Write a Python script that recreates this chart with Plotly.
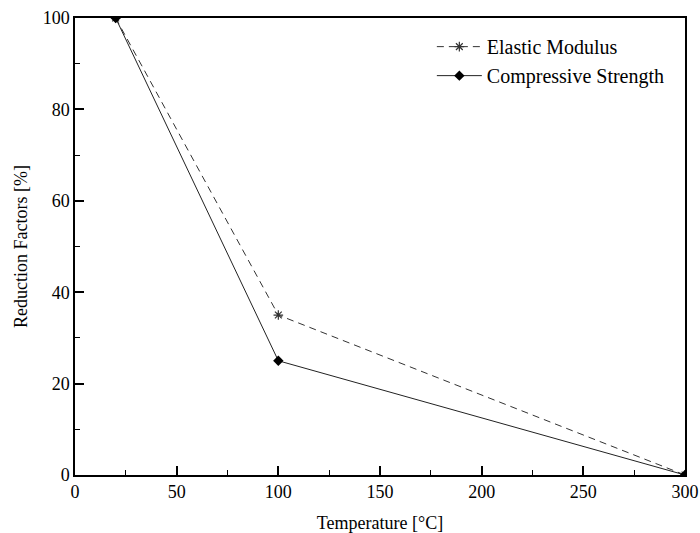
import plotly.graph_objects as go

temperature = [20, 100, 300]
elastic_modulus = [100, 35, 0]
compressive_strength = [100, 25, 0]

font_family = "Liberation Serif"

fig = go.Figure()
fig.add_trace(go.Scatter(
    x=temperature, y=elastic_modulus, mode="lines+markers",
    name="Elastic Modulus",
    line=dict(color="#333333", width=1, dash="7px,5px"),
    marker=dict(symbol="asterisk-open", size=8, color="#333333", line=dict(width=1.2, color="#333333")),
))
fig.add_trace(go.Scatter(
    x=temperature, y=compressive_strength, mode="lines+markers",
    name="Compressive Strength",
    line=dict(color="#222222", width=1),
    marker=dict(symbol="diamond", size=8, color="#000000"),
))

axis_common = dict(
    showgrid=False, zeroline=False, showline=True, linecolor="black", linewidth=1.5,
    mirror=True, ticks="inside", ticklen=9, tickwidth=1.5, tickcolor="black",
    tickfont=dict(family=font_family, size=18, color="black"),
    automargin=False,
)

fig.update_layout(
    width=700, height=533,
    margin=dict(l=75, r=15, t=18, b=58),
    plot_bgcolor="white", paper_bgcolor="white",
    font=dict(family=font_family, size=18, color="black"),
    xaxis=dict(range=[0, 300], tickvals=[0, 50, 100, 150, 200, 250, 300],
               minor=dict(ticks="inside", ticklen=5, tickwidth=1.2, tickcolor="black", dtick=25, tick0=0),
               title=dict(text="Temperature [°C]", font=dict(family=font_family, size=18), standoff=18),
               **axis_common),
    yaxis=dict(range=[0, 100], tickvals=[0, 20, 40, 60, 80, 100],
               minor=dict(ticks="inside", ticklen=5, tickwidth=1.2, tickcolor="black", dtick=10, tick0=0),
               title=dict(text="Reduction Factors [%]", font=dict(family=font_family, size=18), standoff=10),
               **axis_common),
    legend=dict(x=0.585, y=0.98, xanchor="left", yanchor="top", bgcolor="rgba(0,0,0,0)",
                font=dict(family=font_family, size=20), itemwidth=45, tracegroupgap=0),
    showlegend=True,
)

fig.write_html("out.html")
